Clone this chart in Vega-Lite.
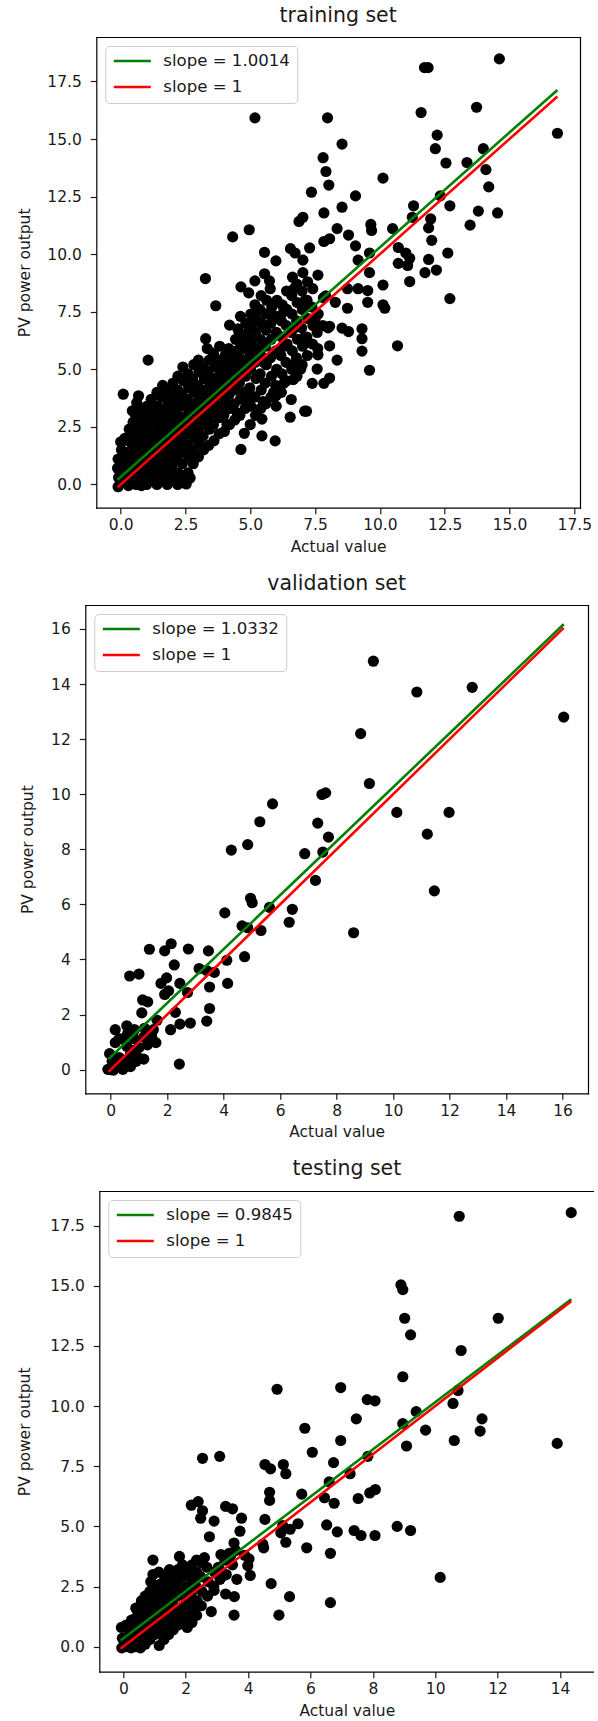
{
  "$schema": "https://vega.github.io/schema/vega-lite/v6.json",
  "padding": {"left": 17.3, "top": 5, "right": 0, "bottom": 0},
  "spacing": 18,
  "config": {
    "font": "DejaVu Sans",
    "view": {"stroke": null},
    "axis": {"grid": false, "domain": true, "domainColor": "black", "domainWidth": 1.2, "domainCap": "square", "tickColor": "#1a1a1a", "tickSize": 6, "tickWidth": 1.2, "labelColor": "#1a1a1a", "titleColor": "#1a1a1a", "labelFontSize": 15.5, "titleFontSize": 15.5, "titleFontWeight": "normal", "labelFont": "DejaVu Sans", "titleFont": "DejaVu Sans", "labelFlush": false, "labelOverlap": false},
    "axisX": {"labelPadding": 4, "titlePadding": 6},
    "axisY": {"labelPadding": 9, "titlePadding": 0},
    "title": {"fontSize": 20.5, "fontWeight": "normal", "font": "DejaVu Sans", "color": "#1a1a1a", "offset": 11},
    "legend": {"orient": "none", "legendY": 9, "symbolType": "stroke", "symbolSize": 1369, "symbolStrokeWidth": 2.6, "clipHeight": 16, "rowPadding": 9, "labelFontSize": 16.6, "labelFont": "DejaVu Sans", "labelColor": "#1a1a1a", "labelOffset": 11, "padding": 7, "strokeColor": "#cccccc", "fillColor": "rgba(255,255,255,0.8)", "cornerRadius": 4, "labelLimit": 400}
  },
  "resolve": {"scale": {"color": "independent", "x": "independent", "y": "independent"}, "legend": {"color": "independent"}},
  "vconcat": [
    {
      "title": {"text": "training set", "dx": 5.5},
      "width": 494.7,
      "height": 470.7,
      "resolve": {"axis": {"x": "independent", "y": "independent"}},
      "layer": [
        {
          "data": {"values": [
            {"actual": 14.61, "output": 18.48}, {"actual": 11.72, "output": 18.1}, {"actual": 11.86, "output": 18.1}, {"actual": 5.18, "output": 15.92}, {"actual": 7.98, "output": 15.92}, {"actual": 11.59, "output": 16.15}, {"actual": 13.73, "output": 16.38}, {"actual": 16.85, "output": 15.25}, {"actual": 8.54, "output": 14.78}, {"actual": 12.21, "output": 15.17}, {"actual": 12.14, "output": 14.58}, {"actual": 13.99, "output": 14.58}, {"actual": 7.81, "output": 14.19}, {"actual": 7.92, "output": 13.59}, {"actual": 12.55, "output": 13.96}, {"actual": 13.36, "output": 13.98}, {"actual": 14.09, "output": 13.67}, {"actual": 8.03, "output": 13.0}, {"actual": 10.12, "output": 13.3}, {"actual": 14.2, "output": 12.92}, {"actual": 7.36, "output": 12.69}, {"actual": 9.06, "output": 12.53}, {"actual": 12.33, "output": 12.53}, {"actual": 12.7, "output": 12.1}, {"actual": 11.3, "output": 12.1}, {"actual": 8.54, "output": 12.04}, {"actual": 7.84, "output": 11.79}, {"actual": 13.8, "output": 11.87}, {"actual": 14.54, "output": 11.79}, {"actual": 11.25, "output": 11.6}, {"actual": 13.48, "output": 11.26}, {"actual": 6.88, "output": 11.42}, {"actual": 7.03, "output": 11.6}, {"actual": 11.96, "output": 11.53}, {"actual": 11.88, "output": 11.14}, {"actual": 4.96, "output": 11.06}, {"actual": 4.32, "output": 10.75}, {"actual": 9.65, "output": 11.29}, {"actual": 9.68, "output": 11.03}, {"actual": 10.49, "output": 11.11}, {"actual": 8.35, "output": 11.11}, {"actual": 12.0, "output": 10.6}, {"actual": 10.71, "output": 10.29}, {"actual": 5.55, "output": 10.08}, {"actual": 5.99, "output": 9.71}, {"actual": 6.55, "output": 10.24}, {"actual": 6.73, "output": 10.05}, {"actual": 7.29, "output": 10.27}, {"actual": 7.84, "output": 10.55}, {"actual": 8.06, "output": 10.67}, {"actual": 8.79, "output": 10.83}, {"actual": 9.06, "output": 10.36}, {"actual": 9.6, "output": 10.05}, {"actual": 11.0, "output": 10.05}, {"actual": 11.15, "output": 9.82}, {"actual": 11.07, "output": 9.51}, {"actual": 11.88, "output": 9.77}, {"actual": 12.62, "output": 10.05}, {"actual": 10.71, "output": 9.6}, {"actual": 11.74, "output": 9.2}, {"actual": 12.18, "output": 9.31}, {"actual": 9.16, "output": 9.74}, {"actual": 9.6, "output": 9.2}, {"actual": 7.61, "output": 9.09}, {"actual": 7.03, "output": 9.74}, {"actual": 5.55, "output": 9.15}, {"actual": 5.18, "output": 8.84}, {"actual": 3.27, "output": 8.94}, {"actual": 5.74, "output": 8.84}, {"actual": 11.15, "output": 8.81}, {"actual": 10.12, "output": 8.66}, {"actual": 8.75, "output": 8.5}, {"actual": 9.16, "output": 8.5}, {"actual": 9.53, "output": 8.42}, {"actual": 4.64, "output": 8.58}, {"actual": 4.94, "output": 8.32}, {"actual": 3.67, "output": 7.76}, {"actual": 12.7, "output": 8.07}, {"actual": 9.53, "output": 7.91}, {"actual": 8.75, "output": 7.65}, {"actual": 10.12, "output": 7.8}, {"actual": 10.19, "output": 7.65}, {"actual": 8.28, "output": 7.91}, {"actual": 7.91, "output": 8.19}, {"actual": 4.2, "output": 6.92}, {"actual": 4.52, "output": 6.76}, {"actual": 8.54, "output": 6.79}, {"actual": 8.79, "output": 6.64}, {"actual": 8.06, "output": 6.87}, {"actual": 9.31, "output": 6.76}, {"actual": 9.31, "output": 6.33}, {"actual": 9.31, "output": 5.79}, {"actual": 10.68, "output": 6.02}, {"actual": 3.28, "output": 6.33}, {"actual": 3.34, "output": 5.9}, {"actual": 8.06, "output": 6.02}, {"actual": 8.35, "output": 5.4}, {"actual": 9.6, "output": 4.96}, {"actual": 7.61, "output": 5.63}, {"actual": 8.06, "output": 4.62}, {"actual": 7.58, "output": 5.01}, {"actual": 6.95, "output": 5.01}, {"actual": 7.39, "output": 4.39}, {"actual": 7.84, "output": 4.39}, {"actual": 6.66, "output": 4.55}, {"actual": 6.58, "output": 3.69}, {"actual": 6.54, "output": 2.92}, {"actual": 7.1, "output": 3.18}, {"actual": 7.17, "output": 3.18}, {"actual": 5.99, "output": 3.85}, {"actual": 5.45, "output": 2.84}, {"actual": 4.77, "output": 2.22}, {"actual": 4.64, "output": 1.52}, {"actual": 5.45, "output": 2.11}, {"actual": 5.96, "output": 1.89}, {"actual": 2.53, "output": 0.02}, {"actual": 2.68, "output": 0.28}, {"actual": 0.1, "output": 3.92}, {"actual": 1.06, "output": 5.4}, {"actual": 0.69, "output": 3.85},
            {"actual": -0.1, "output": -0.1}, {"actual": -0.08, "output": 0.3}, {"actual": -0.12, "output": 0.7}, {"actual": -0.1, "output": 1.1},
            {"actual": 0.0, "output": 0.05}, {"actual": 0.02, "output": 0.5}, {"actual": -0.02, "output": 1.0}, {"actual": 0.03, "output": 1.5}, {"actual": 0.0, "output": 1.85},
            {"actual": 0.15, "output": 0.2}, {"actual": 0.17, "output": 0.65}, {"actual": 0.13, "output": 1.3}, {"actual": 0.16, "output": 2.0},
            {"actual": 0.3, "output": -0.05}, {"actual": 0.32, "output": 0.4}, {"actual": 0.28, "output": 0.9}, {"actual": 0.31, "output": 1.4}, {"actual": 0.29, "output": 1.9}, {"actual": 0.33, "output": 2.4},
            {"actual": 0.45, "output": 0.1}, {"actual": 0.47, "output": 0.7}, {"actual": 0.44, "output": 1.2}, {"actual": 0.46, "output": 1.7}, {"actual": 0.43, "output": 2.2}, {"actual": 0.48, "output": 2.7}, {"actual": 0.45, "output": 3.2},
            {"actual": 0.6, "output": 0.0}, {"actual": 0.62, "output": 0.5}, {"actual": 0.58, "output": 1.0}, {"actual": 0.61, "output": 1.5}, {"actual": 0.6, "output": 2.0}, {"actual": 0.63, "output": 2.5}, {"actual": 0.57, "output": 3.0}, {"actual": 0.62, "output": 3.55},
            {"actual": 0.8, "output": -0.05}, {"actual": 0.78, "output": 0.3}, {"actual": 0.82, "output": 0.8}, {"actual": 0.79, "output": 1.3}, {"actual": 0.81, "output": 1.8}, {"actual": 0.8, "output": 2.3}, {"actual": 0.83, "output": 2.8}, {"actual": 0.78, "output": 3.3},
            {"actual": 1.0, "output": 0.0}, {"actual": 1.02, "output": 0.5}, {"actual": 0.98, "output": 1.0}, {"actual": 1.01, "output": 1.5}, {"actual": 1.0, "output": 2.0}, {"actual": 1.03, "output": 2.5}, {"actual": 0.97, "output": 3.0}, {"actual": 1.02, "output": 3.4},
            {"actual": 1.2, "output": 0.2}, {"actual": 1.18, "output": 0.7}, {"actual": 1.22, "output": 1.2}, {"actual": 1.19, "output": 1.7}, {"actual": 1.21, "output": 2.2}, {"actual": 1.2, "output": 2.7}, {"actual": 1.23, "output": 3.2}, {"actual": 1.18, "output": 3.7},
            {"actual": 1.4, "output": 0.0}, {"actual": 1.42, "output": 0.4}, {"actual": 1.38, "output": 0.9}, {"actual": 1.41, "output": 1.4}, {"actual": 1.4, "output": 1.9}, {"actual": 1.43, "output": 2.4}, {"actual": 1.37, "output": 2.9}, {"actual": 1.42, "output": 3.4}, {"actual": 1.4, "output": 4.0},
            {"actual": 1.6, "output": 0.2}, {"actual": 1.58, "output": 0.7}, {"actual": 1.62, "output": 1.2}, {"actual": 1.59, "output": 1.7}, {"actual": 1.61, "output": 2.2}, {"actual": 1.6, "output": 2.7}, {"actual": 1.63, "output": 3.2}, {"actual": 1.58, "output": 3.8}, {"actual": 1.62, "output": 4.3},
            {"actual": 1.8, "output": 0.0}, {"actual": 1.82, "output": 0.5}, {"actual": 1.78, "output": 1.0}, {"actual": 1.81, "output": 1.5}, {"actual": 1.8, "output": 2.0}, {"actual": 1.83, "output": 2.5}, {"actual": 1.77, "output": 3.0}, {"actual": 1.82, "output": 3.5}, {"actual": 1.8, "output": 4.1},
            {"actual": 2.0, "output": 0.2}, {"actual": 1.98, "output": 0.8}, {"actual": 2.02, "output": 1.3}, {"actual": 1.99, "output": 1.8}, {"actual": 2.01, "output": 2.3}, {"actual": 2.0, "output": 2.8}, {"actual": 2.03, "output": 3.3}, {"actual": 1.98, "output": 3.8}, {"actual": 2.02, "output": 4.4},
            {"actual": 2.2, "output": 0.0}, {"actual": 2.22, "output": 0.5}, {"actual": 2.18, "output": 1.1}, {"actual": 2.21, "output": 1.6}, {"actual": 2.2, "output": 2.1}, {"actual": 2.23, "output": 2.6}, {"actual": 2.17, "output": 3.1}, {"actual": 2.22, "output": 3.6}, {"actual": 2.2, "output": 4.1}, {"actual": 2.21, "output": 4.7},
            {"actual": 2.4, "output": 0.3}, {"actual": 2.38, "output": 0.9}, {"actual": 2.42, "output": 1.4}, {"actual": 2.39, "output": 1.9}, {"actual": 2.41, "output": 2.4}, {"actual": 2.4, "output": 2.9}, {"actual": 2.43, "output": 3.4}, {"actual": 2.38, "output": 3.9}, {"actual": 2.42, "output": 4.5}, {"actual": 2.4, "output": 5.1},
            {"actual": 2.6, "output": 0.5}, {"actual": 2.62, "output": 1.2}, {"actual": 2.58, "output": 1.7}, {"actual": 2.61, "output": 2.2}, {"actual": 2.6, "output": 2.7}, {"actual": 2.63, "output": 3.2}, {"actual": 2.57, "output": 3.7}, {"actual": 2.62, "output": 4.2}, {"actual": 2.6, "output": 4.8},
            {"actual": 2.8, "output": 0.9}, {"actual": 2.78, "output": 1.5}, {"actual": 2.82, "output": 2.0}, {"actual": 2.79, "output": 2.5}, {"actual": 2.81, "output": 3.0}, {"actual": 2.8, "output": 3.5}, {"actual": 2.83, "output": 4.0}, {"actual": 2.78, "output": 4.6}, {"actual": 2.82, "output": 5.2},
            {"actual": 3.0, "output": 1.2}, {"actual": 3.02, "output": 1.8}, {"actual": 2.98, "output": 2.3}, {"actual": 3.01, "output": 2.8}, {"actual": 3.0, "output": 3.3}, {"actual": 3.03, "output": 3.8}, {"actual": 2.97, "output": 4.3}, {"actual": 3.02, "output": 4.9}, {"actual": 3.0, "output": 5.4},
            {"actual": 3.2, "output": 1.5}, {"actual": 3.18, "output": 2.1}, {"actual": 3.22, "output": 2.6}, {"actual": 3.19, "output": 3.1}, {"actual": 3.21, "output": 3.6}, {"actual": 3.2, "output": 4.1}, {"actual": 3.23, "output": 4.6}, {"actual": 3.18, "output": 5.1},
            {"actual": 3.4, "output": 1.7}, {"actual": 3.42, "output": 2.4}, {"actual": 3.38, "output": 2.9}, {"actual": 3.41, "output": 3.4}, {"actual": 3.4, "output": 3.9}, {"actual": 3.43, "output": 4.4}, {"actual": 3.37, "output": 4.9}, {"actual": 3.42, "output": 5.4},
            {"actual": 3.6, "output": 1.9}, {"actual": 3.58, "output": 2.6}, {"actual": 3.62, "output": 3.1}, {"actual": 3.59, "output": 3.6}, {"actual": 3.61, "output": 4.1}, {"actual": 3.6, "output": 4.6}, {"actual": 3.63, "output": 5.1}, {"actual": 3.58, "output": 5.7},
            {"actual": 3.8, "output": 2.2}, {"actual": 3.82, "output": 2.9}, {"actual": 3.78, "output": 3.4}, {"actual": 3.81, "output": 3.9}, {"actual": 3.8, "output": 4.4}, {"actual": 3.83, "output": 4.9}, {"actual": 3.77, "output": 5.4}, {"actual": 3.82, "output": 6.0},
            {"actual": 4.0, "output": 2.3}, {"actual": 3.98, "output": 3.0}, {"actual": 4.02, "output": 3.6}, {"actual": 3.99, "output": 4.1}, {"actual": 4.01, "output": 4.6}, {"actual": 4.0, "output": 5.1}, {"actual": 4.03, "output": 5.6},
            {"actual": 4.2, "output": 2.6}, {"actual": 4.22, "output": 3.3}, {"actual": 4.18, "output": 3.9}, {"actual": 4.21, "output": 4.4}, {"actual": 4.2, "output": 4.9}, {"actual": 4.23, "output": 5.4}, {"actual": 4.17, "output": 5.9},
            {"actual": 4.4, "output": 2.8}, {"actual": 4.38, "output": 3.5}, {"actual": 4.42, "output": 4.1}, {"actual": 4.39, "output": 4.7}, {"actual": 4.41, "output": 5.2}, {"actual": 4.4, "output": 5.7}, {"actual": 4.43, "output": 6.3},
            {"actual": 4.6, "output": 3.0}, {"actual": 4.62, "output": 3.7}, {"actual": 4.58, "output": 4.4}, {"actual": 4.61, "output": 5.0}, {"actual": 4.6, "output": 5.5}, {"actual": 4.63, "output": 6.1}, {"actual": 4.57, "output": 6.6}, {"actual": 4.62, "output": 7.3},
            {"actual": 4.8, "output": 3.3}, {"actual": 4.78, "output": 4.0}, {"actual": 4.82, "output": 4.7}, {"actual": 4.79, "output": 5.3}, {"actual": 4.81, "output": 5.9}, {"actual": 4.8, "output": 6.5}, {"actual": 4.83, "output": 7.0},
            {"actual": 5.0, "output": 2.6}, {"actual": 5.02, "output": 3.4}, {"actual": 4.98, "output": 4.2}, {"actual": 5.01, "output": 5.0}, {"actual": 5.0, "output": 5.6}, {"actual": 5.03, "output": 6.2}, {"actual": 4.97, "output": 6.8}, {"actual": 5.02, "output": 7.4},
            {"actual": 5.2, "output": 3.0}, {"actual": 5.18, "output": 3.8}, {"actual": 5.22, "output": 4.6}, {"actual": 5.19, "output": 5.3}, {"actual": 5.21, "output": 5.9}, {"actual": 5.2, "output": 6.6}, {"actual": 5.23, "output": 7.2}, {"actual": 5.18, "output": 7.8},
            {"actual": 5.4, "output": 3.3}, {"actual": 5.42, "output": 4.1}, {"actual": 5.38, "output": 4.8}, {"actual": 5.41, "output": 5.6}, {"actual": 5.4, "output": 6.3}, {"actual": 5.43, "output": 7.0}, {"actual": 5.37, "output": 7.6}, {"actual": 5.42, "output": 8.2},
            {"actual": 5.6, "output": 3.5}, {"actual": 5.58, "output": 4.4}, {"actual": 5.62, "output": 5.2}, {"actual": 5.59, "output": 6.0}, {"actual": 5.61, "output": 6.7}, {"actual": 5.6, "output": 7.4}, {"actual": 5.63, "output": 8.0},
            {"actual": 5.8, "output": 3.8}, {"actual": 5.82, "output": 4.7}, {"actual": 5.78, "output": 5.5}, {"actual": 5.81, "output": 6.3}, {"actual": 5.8, "output": 7.0}, {"actual": 5.83, "output": 7.7}, {"actual": 5.77, "output": 8.5},
            {"actual": 6.0, "output": 3.4}, {"actual": 5.98, "output": 4.3}, {"actual": 6.02, "output": 5.0}, {"actual": 5.99, "output": 5.8}, {"actual": 6.01, "output": 6.6}, {"actual": 6.0, "output": 7.3}, {"actual": 6.03, "output": 8.0},
            {"actual": 6.2, "output": 4.0}, {"actual": 6.22, "output": 4.8}, {"actual": 6.18, "output": 5.6}, {"actual": 6.21, "output": 6.4}, {"actual": 6.2, "output": 7.1}, {"actual": 6.23, "output": 7.8},
            {"actual": 6.4, "output": 4.5}, {"actual": 6.38, "output": 5.3}, {"actual": 6.42, "output": 6.1}, {"actual": 6.39, "output": 6.9}, {"actual": 6.41, "output": 7.6}, {"actual": 6.4, "output": 8.4},
            {"actual": 6.6, "output": 5.0}, {"actual": 6.62, "output": 5.8}, {"actual": 6.58, "output": 6.6}, {"actual": 6.61, "output": 7.4}, {"actual": 6.6, "output": 8.2}, {"actual": 6.63, "output": 9.0},
            {"actual": 6.8, "output": 4.7}, {"actual": 6.78, "output": 5.5}, {"actual": 6.82, "output": 6.3}, {"actual": 6.79, "output": 7.1}, {"actual": 6.81, "output": 7.9}, {"actual": 6.8, "output": 8.7},
            {"actual": 7.0, "output": 5.2}, {"actual": 7.02, "output": 6.0}, {"actual": 6.98, "output": 6.8}, {"actual": 7.01, "output": 7.6}, {"actual": 7.0, "output": 8.4}, {"actual": 7.03, "output": 9.2},
            {"actual": 7.2, "output": 5.6}, {"actual": 7.18, "output": 6.4}, {"actual": 7.22, "output": 7.2}, {"actual": 7.19, "output": 8.0}, {"actual": 7.21, "output": 8.8},
            {"actual": 7.4, "output": 6.1}, {"actual": 7.42, "output": 6.9}, {"actual": 7.38, "output": 7.7}, {"actual": 7.41, "output": 8.5},
            {"actual": 7.6, "output": 5.9}, {"actual": 7.58, "output": 6.6}, {"actual": 7.62, "output": 7.4},
            {"actual": 7.8, "output": 6.9}, {"actual": 7.82, "output": 8.1}, {"actual": 8.0, "output": 6.8},
            {"actual": 4.1, "output": 2.6}, {"actual": 4.1, "output": 3.3}, {"actual": 4.12, "output": 4.5}, {"actual": 4.09, "output": 5.3}, {"actual": 4.5, "output": 3.1}, {"actual": 4.52, "output": 4.4}, {"actual": 4.49, "output": 5.8}, {"actual": 4.9, "output": 3.7}, {"actual": 4.91, "output": 5.1}, {"actual": 4.88, "output": 6.3},
            {"actual": 5.1, "output": 3.8}, {"actual": 5.12, "output": 5.4}, {"actual": 5.09, "output": 7.0}, {"actual": 5.5, "output": 3.6}, {"actual": 5.52, "output": 5.3}, {"actual": 5.49, "output": 6.9}, {"actual": 5.9, "output": 4.0}, {"actual": 5.91, "output": 5.7}, {"actual": 5.88, "output": 7.3},
            {"actual": 6.3, "output": 4.4}, {"actual": 6.31, "output": 6.0}, {"actual": 6.29, "output": 7.5}, {"actual": 6.7, "output": 5.2}, {"actual": 6.71, "output": 6.8}, {"actual": 6.69, "output": 8.5}, {"actual": 7.1, "output": 6.4}, {"actual": 7.12, "output": 8.0}, {"actual": 7.5, "output": 7.2}
          ]},
          "mark": {"type": "circle", "size": 125, "color": "black", "opacity": 1},
          "encoding": {
            "x": {"field": "actual", "type": "quantitative", "scale": {"domain": [-0.94, 17.72], "nice": false, "zero": false, "rangeMin": 11}, "axis": {"title": "Actual value", "values": [0, 2.5, 5, 7.5, 10, 12.5, 15, 17.5], "format": ".1f"}},
            "y": {"field": "output", "type": "quantitative", "scale": {"domain": [-1.01, 19.43], "nice": false, "zero": false}, "axis": {"title": "PV power output", "values": [0, 2.5, 5, 7.5, 10, 12.5, 15, 17.5], "format": ".1f", "offset": -11, "minExtent": 63.5, "maxExtent": 63.5}}
          }
        },
        {
          "data": {"values": [
            {"actual": -0.12, "output": 0.2, "series": "slope = 1.0014"}, {"actual": 16.85, "output": 17.13, "series": "slope = 1.0014"},
            {"actual": -0.12, "output": -0.12, "series": "slope = 1"}, {"actual": 16.85, "output": 16.85, "series": "slope = 1"}
          ]},
          "mark": {"type": "line", "strokeWidth": 2.6},
          "encoding": {
            "x": {"field": "actual", "type": "quantitative", "scale": {"domain": [-0.94, 17.72], "nice": false, "zero": false, "rangeMin": 11}, "axis": {"orient": "top", "title": null, "labels": false, "ticks": false}},
            "y": {"field": "output", "type": "quantitative", "scale": {"domain": [-1.01, 19.43], "nice": false, "zero": false}, "axis": {"orient": "right", "title": null, "labels": false, "ticks": false}},
            "color": {"field": "series", "type": "nominal", "scale": {"domain": ["slope = 1.0014", "slope = 1"], "range": ["#008000", "#ff0000"]}, "legend": {"title": null, "legendX": 20}}
          }
        }
      ]
    },
    {
      "title": {"text": "validation set"},
      "width": 502.7,
      "height": 488.3,
      "resolve": {"axis": {"x": "independent", "y": "independent"}},
      "layer": [
        {
          "data": {"values": [
            {"actual": 9.3, "output": 14.83}, {"actual": 10.84, "output": 13.71}, {"actual": 12.8, "output": 13.88}, {"actual": 16.04, "output": 12.8}, {"actual": 8.85, "output": 12.2}, {"actual": 9.16, "output": 10.39}, {"actual": 7.48, "output": 9.99}, {"actual": 7.61, "output": 10.05}, {"actual": 5.73, "output": 9.65}, {"actual": 5.28, "output": 9.0}, {"actual": 7.33, "output": 8.95}, {"actual": 10.13, "output": 9.34}, {"actual": 11.98, "output": 9.34}, {"actual": 11.21, "output": 8.55}, {"actual": 7.71, "output": 8.44}, {"actual": 4.27, "output": 7.97}, {"actual": 4.85, "output": 8.17}, {"actual": 6.87, "output": 7.84}, {"actual": 7.51, "output": 7.9}, {"actual": 7.25, "output": 6.87}, {"actual": 11.46, "output": 6.49}, {"actual": 4.95, "output": 6.22}, {"actual": 5.01, "output": 6.06}, {"actual": 5.62, "output": 5.89}, {"actual": 6.43, "output": 5.82}, {"actual": 6.32, "output": 5.35}, {"actual": 4.04, "output": 5.69}, {"actual": 4.65, "output": 5.22}, {"actual": 4.85, "output": 5.15}, {"actual": 5.32, "output": 5.05}, {"actual": 8.6, "output": 4.97},
            {"actual": 1.37, "output": 4.37}, {"actual": 1.91, "output": 4.31}, {"actual": 2.14, "output": 4.57}, {"actual": 2.75, "output": 4.38}, {"actual": 3.46, "output": 4.31}, {"actual": 2.25, "output": 3.8}, {"actual": 4.11, "output": 3.97}, {"actual": 4.74, "output": 4.1}, {"actual": 0.67, "output": 3.4}, {"actual": 1.0, "output": 3.47}, {"actual": 3.13, "output": 3.67}, {"actual": 3.4, "output": 3.6}, {"actual": 3.67, "output": 3.53}, {"actual": 4.14, "output": 3.13}, {"actual": 3.5, "output": 3.0}, {"actual": 1.78, "output": 3.13}, {"actual": 1.98, "output": 3.33}, {"actual": 2.45, "output": 3.13}, {"actual": 2.72, "output": 2.8}, {"actual": 2.05, "output": 2.86}, {"actual": 1.91, "output": 2.73}, {"actual": 1.13, "output": 2.53}, {"actual": 1.31, "output": 2.46}, {"actual": 3.5, "output": 2.22}, {"actual": 3.4, "output": 1.76}, {"actual": 2.29, "output": 2.08}, {"actual": 2.45, "output": 1.65}, {"actual": 2.82, "output": 1.69}, {"actual": 2.12, "output": 1.45}, {"actual": 1.1, "output": 2.06}, {"actual": 1.64, "output": 1.79}, {"actual": 1.51, "output": 1.45}, {"actual": 1.17, "output": 1.18}, {"actual": 1.6, "output": 0.98}, {"actual": 0.57, "output": 1.59}, {"actual": 0.84, "output": 1.45}, {"actual": 0.16, "output": 1.45}, {"actual": 0.3, "output": 1.12}, {"actual": -0.04, "output": 0.58}, {"actual": 1.17, "output": 0.38}, {"actual": 2.43, "output": 0.2},
            {"actual": 0.0, "output": 0.0}, {"actual": 0.16, "output": 0.15}, {"actual": 0.43, "output": 0.31}, {"actual": 0.7, "output": 0.58}, {"actual": 0.3, "output": 0.44}, {"actual": 0.57, "output": 0.85}, {"actual": 0.84, "output": 0.71}, {"actual": 0.1, "output": -0.02}, {"actual": -0.1, "output": 0.01}, {"actual": 0.43, "output": 0.01}, {"actual": 0.7, "output": 0.11}, {"actual": 0.97, "output": 0.44}, {"actual": 0.84, "output": 1.12}, {"actual": 0.43, "output": 1.12}, {"actual": 0.16, "output": 0.98}, {"actual": 0.25, "output": 0.2}, {"actual": 0.55, "output": 0.25}, {"actual": 0.05, "output": 0.3}, {"actual": 1.3, "output": 0.9}, {"actual": 1.0, "output": 0.8}, {"actual": 0.9, "output": 0.3}, {"actual": 1.45, "output": 1.2}, {"actual": 1.2, "output": 1.5}, {"actual": 0.6, "output": 1.3}
          ]},
          "mark": {"type": "circle", "size": 125, "color": "black", "opacity": 1},
          "encoding": {
            "x": {"field": "actual", "type": "quantitative", "scale": {"domain": [-0.9, 16.9], "nice": false, "zero": false}, "axis": {"title": "Actual value", "values": [0, 2, 4, 6, 8, 10, 12, 14, 16], "format": "d"}},
            "y": {"field": "output", "type": "quantitative", "scale": {"domain": [-0.86, 16.87], "nice": false, "zero": false}, "axis": {"title": "PV power output", "values": [0, 2, 4, 6, 8, 10, 12, 14, 16], "format": "d", "minExtent": 49.5, "maxExtent": 49.5}}
          }
        },
        {
          "data": {"values": [
            {"actual": -0.08, "output": 0.38, "series": "slope = 1.0332"}, {"actual": 16.04, "output": 16.17, "series": "slope = 1.0332"},
            {"actual": -0.08, "output": -0.08, "series": "slope = 1"}, {"actual": 16.04, "output": 16.04, "series": "slope = 1"}
          ]},
          "mark": {"type": "line", "strokeWidth": 2.6},
          "encoding": {
            "x": {"field": "actual", "type": "quantitative", "scale": {"domain": [-0.9, 16.9], "nice": false, "zero": false}, "axis": {"orient": "top", "title": null, "labels": false, "ticks": false}},
            "y": {"field": "output", "type": "quantitative", "scale": {"domain": [-0.86, 16.87], "nice": false, "zero": false}, "axis": {"orient": "right", "title": null, "labels": false, "ticks": false}},
            "color": {"field": "series", "type": "nominal", "scale": {"domain": ["slope = 1.0332", "slope = 1"], "range": ["#008000", "#ff0000"]}, "legend": {"title": null, "legendX": 9}}
          }
        }
      ]
    },
    {
      "title": {"text": "testing set", "dx": 7},
      "width": 509,
      "height": 480.7,
      "resolve": {"axis": {"x": "independent", "y": "independent"}},
      "layer": [
        {
          "data": {"values": [
            {"actual": 14.36, "output": 18.04}, {"actual": 10.77, "output": 17.89}, {"actual": 8.9, "output": 15.04}, {"actual": 8.96, "output": 14.84}, {"actual": 9.02, "output": 13.65}, {"actual": 12.02, "output": 13.65}, {"actual": 9.21, "output": 12.96}, {"actual": 10.83, "output": 12.31}, {"actual": 8.96, "output": 11.22}, {"actual": 4.93, "output": 10.7}, {"actual": 6.97, "output": 10.77}, {"actual": 7.82, "output": 10.27}, {"actual": 8.07, "output": 10.22}, {"actual": 10.73, "output": 10.65}, {"actual": 10.57, "output": 10.11}, {"actual": 7.47, "output": 9.47}, {"actual": 11.5, "output": 9.47}, {"actual": 9.39, "output": 9.77}, {"actual": 8.96, "output": 9.27}, {"actual": 9.69, "output": 9.0}, {"actual": 11.44, "output": 8.96}, {"actual": 5.82, "output": 9.08}, {"actual": 6.97, "output": 8.57}, {"actual": 10.61, "output": 8.57}, {"actual": 9.08, "output": 8.34}, {"actual": 13.91, "output": 8.45}, {"actual": 6.06, "output": 8.08}, {"actual": 2.54, "output": 7.83}, {"actual": 3.09, "output": 7.91}, {"actual": 7.84, "output": 7.91}, {"actual": 6.74, "output": 7.65}, {"actual": 4.54, "output": 7.57}, {"actual": 4.72, "output": 7.39}, {"actual": 5.13, "output": 7.57}, {"actual": 5.21, "output": 7.19}, {"actual": 7.27, "output": 7.19}, {"actual": 6.6, "output": 6.85}, {"actual": 4.69, "output": 6.42}, {"actual": 4.69, "output": 6.08}, {"actual": 5.72, "output": 6.34}, {"actual": 6.45, "output": 6.19}, {"actual": 6.76, "output": 5.96}, {"actual": 7.53, "output": 6.16}, {"actual": 7.9, "output": 6.39}, {"actual": 8.08, "output": 6.53},
            {"actual": 2.18, "output": 5.88}, {"actual": 2.4, "output": 6.03}, {"actual": 2.54, "output": 5.65}, {"actual": 2.48, "output": 5.34}, {"actual": 2.91, "output": 5.22}, {"actual": 3.28, "output": 5.83}, {"actual": 3.5, "output": 5.73}, {"actual": 3.79, "output": 5.34}, {"actual": 3.74, "output": 4.8}, {"actual": 2.76, "output": 4.57}, {"actual": 4.54, "output": 5.29}, {"actual": 5.11, "output": 5.03}, {"actual": 5.35, "output": 4.88}, {"actual": 5.6, "output": 5.11}, {"actual": 5.05, "output": 4.73}, {"actual": 5.21, "output": 4.34}, {"actual": 6.52, "output": 5.06}, {"actual": 6.86, "output": 4.77}, {"actual": 7.4, "output": 4.83}, {"actual": 7.62, "output": 4.62}, {"actual": 8.07, "output": 4.62}, {"actual": 8.78, "output": 5.0}, {"actual": 9.21, "output": 4.83}, {"actual": 5.88, "output": 4.11}, {"actual": 6.64, "output": 3.88}, {"actual": 4.5, "output": 4.11}, {"actual": 4.47, "output": 4.26}, {"actual": 3.55, "output": 4.31}, {"actual": 3.13, "output": 3.83}, {"actual": 3.4, "output": 3.88}, {"actual": 3.89, "output": 3.8}, {"actual": 4.03, "output": 3.65}, {"actual": 3.99, "output": 3.37}, {"actual": 4.07, "output": 2.96}, {"actual": 3.64, "output": 2.8}, {"actual": 3.22, "output": 2.96}, {"actual": 4.74, "output": 2.62}, {"actual": 5.33, "output": 2.08}, {"actual": 6.64, "output": 1.83}, {"actual": 4.99, "output": 1.31}, {"actual": 3.55, "output": 1.31}, {"actual": 3.56, "output": 2.08}, {"actual": 2.82, "output": 1.46}, {"actual": 10.16, "output": 2.88}, {"actual": 2.91, "output": 2.34}, {"actual": 3.28, "output": 2.19},
            {"actual": -0.05, "output": -0.05}, {"actual": -0.03, "output": 0.35}, {"actual": -0.06, "output": 0.8}, {"actual": 0.1, "output": 0.0}, {"actual": 0.12, "output": 0.4}, {"actual": 0.09, "output": 0.9}, {"actual": 0.25, "output": -0.05}, {"actual": 0.27, "output": 0.3}, {"actual": 0.23, "output": 0.7}, {"actual": 0.26, "output": 1.1}, {"actual": 0.4, "output": 0.0}, {"actual": 0.42, "output": 0.4}, {"actual": 0.38, "output": 0.8}, {"actual": 0.41, "output": 1.2}, {"actual": 0.4, "output": 1.6}, {"actual": 0.55, "output": -0.05}, {"actual": 0.57, "output": 0.3}, {"actual": 0.53, "output": 0.7}, {"actual": 0.56, "output": 1.1}, {"actual": 0.55, "output": 1.5}, {"actual": 0.58, "output": 1.9}, {"actual": 0.7, "output": 0.1}, {"actual": 0.68, "output": 0.5}, {"actual": 0.72, "output": 0.9}, {"actual": 0.69, "output": 1.3}, {"actual": 0.71, "output": 1.7}, {"actual": 0.7, "output": 2.1}, {"actual": 0.85, "output": 0.3}, {"actual": 0.87, "output": 0.8}, {"actual": 0.83, "output": 1.3}, {"actual": 0.86, "output": 1.8}, {"actual": 0.85, "output": 2.3}, {"actual": 0.88, "output": 2.7}, {"actual": 1.0, "output": 0.5}, {"actual": 1.02, "output": 1.0}, {"actual": 0.98, "output": 1.5}, {"actual": 1.01, "output": 2.0}, {"actual": 1.0, "output": 2.5}, {"actual": 0.95, "output": 3.0}, {"actual": 0.95, "output": 3.6}, {"actual": 1.15, "output": 0.05}, {"actual": 1.17, "output": 0.7}, {"actual": 1.13, "output": 1.2}, {"actual": 1.16, "output": 1.7}, {"actual": 1.15, "output": 2.2}, {"actual": 1.18, "output": 2.6}, {"actual": 1.14, "output": 3.1}, {"actual": 1.3, "output": 0.3}, {"actual": 1.32, "output": 0.9}, {"actual": 1.28, "output": 1.4}, {"actual": 1.31, "output": 1.9}, {"actual": 1.3, "output": 2.4}, {"actual": 1.33, "output": 2.9}, {"actual": 1.45, "output": 0.5}, {"actual": 1.47, "output": 1.1}, {"actual": 1.43, "output": 1.7}, {"actual": 1.46, "output": 2.2}, {"actual": 1.45, "output": 2.7}, {"actual": 1.48, "output": 3.2}, {"actual": 1.6, "output": 0.7}, {"actual": 1.62, "output": 1.3}, {"actual": 1.58, "output": 1.9}, {"actual": 1.61, "output": 2.5}, {"actual": 1.6, "output": 3.0}, {"actual": 1.75, "output": 0.9}, {"actual": 1.77, "output": 1.5}, {"actual": 1.73, "output": 2.1}, {"actual": 1.76, "output": 2.7}, {"actual": 1.75, "output": 3.2}, {"actual": 1.8, "output": 3.75}, {"actual": 1.9, "output": 1.1}, {"actual": 1.92, "output": 1.7}, {"actual": 1.88, "output": 2.3}, {"actual": 1.91, "output": 2.9}, {"actual": 1.9, "output": 3.4}, {"actual": 2.05, "output": 0.8}, {"actual": 2.07, "output": 1.3}, {"actual": 2.03, "output": 1.9}, {"actual": 2.06, "output": 2.5}, {"actual": 2.05, "output": 3.1}, {"actual": 2.2, "output": 1.0}, {"actual": 2.22, "output": 1.6}, {"actual": 2.18, "output": 2.2}, {"actual": 2.21, "output": 2.8}, {"actual": 2.2, "output": 3.4}, {"actual": 2.35, "output": 1.3}, {"actual": 2.37, "output": 1.9}, {"actual": 2.33, "output": 2.5}, {"actual": 2.36, "output": 3.1}, {"actual": 2.35, "output": 3.6}, {"actual": 2.5, "output": 1.7}, {"actual": 2.52, "output": 2.3}, {"actual": 2.48, "output": 2.9}, {"actual": 2.51, "output": 3.5}, {"actual": 2.7, "output": 2.1}, {"actual": 2.72, "output": 2.7}, {"actual": 2.68, "output": 3.3}, {"actual": 2.6, "output": 3.7}, {"actual": 2.9, "output": 2.5}, {"actual": 2.92, "output": 3.1}, {"actual": 3.1, "output": 2.8}, {"actual": 3.05, "output": 3.3}, {"actual": 3.3, "output": 3.0}, {"actual": 3.25, "output": 3.6}, {"actual": 3.5, "output": 3.4}, {"actual": 3.6, "output": 4.0}, {"actual": 3.45, "output": 3.8}
          ]},
          "mark": {"type": "circle", "size": 125, "color": "black", "opacity": 1},
          "encoding": {
            "x": {"field": "actual", "type": "quantitative", "scale": {"domain": [-0.77, 15.1], "nice": false, "zero": false, "rangeMin": 14}, "axis": {"title": "Actual value", "values": [0, 2, 4, 6, 8, 10, 12, 14], "format": "d"}},
            "y": {"field": "output", "type": "quantitative", "scale": {"domain": [-1.04, 18.94], "nice": false, "zero": false}, "axis": {"title": "PV power output", "values": [0, 2.5, 5, 7.5, 10, 12.5, 15, 17.5], "format": ".1f", "offset": -14, "minExtent": 66.5, "maxExtent": 66.5}}
          }
        },
        {
          "data": {"values": [
            {"actual": -0.09, "output": 0.26, "series": "slope = 0.9845"}, {"actual": 14.36, "output": 14.44, "series": "slope = 0.9845"},
            {"actual": -0.09, "output": -0.09, "series": "slope = 1"}, {"actual": 14.36, "output": 14.36, "series": "slope = 1"}
          ]},
          "mark": {"type": "line", "strokeWidth": 2.6},
          "encoding": {
            "x": {"field": "actual", "type": "quantitative", "scale": {"domain": [-0.77, 15.1], "nice": false, "zero": false, "rangeMin": 14}, "axis": {"orient": "top", "title": null, "labels": false, "ticks": false}},
            "y": {"field": "output", "type": "quantitative", "scale": {"domain": [-1.04, 18.94], "nice": false, "zero": false}, "axis": {"orient": "right", "title": null, "labels": false, "ticks": false}},
            "color": {"field": "series", "type": "nominal", "scale": {"domain": ["slope = 0.9845", "slope = 1"], "range": ["#008000", "#ff0000"]}, "legend": {"title": null, "legendX": 23}}
          }
        }
      ]
    }
  ]
}
